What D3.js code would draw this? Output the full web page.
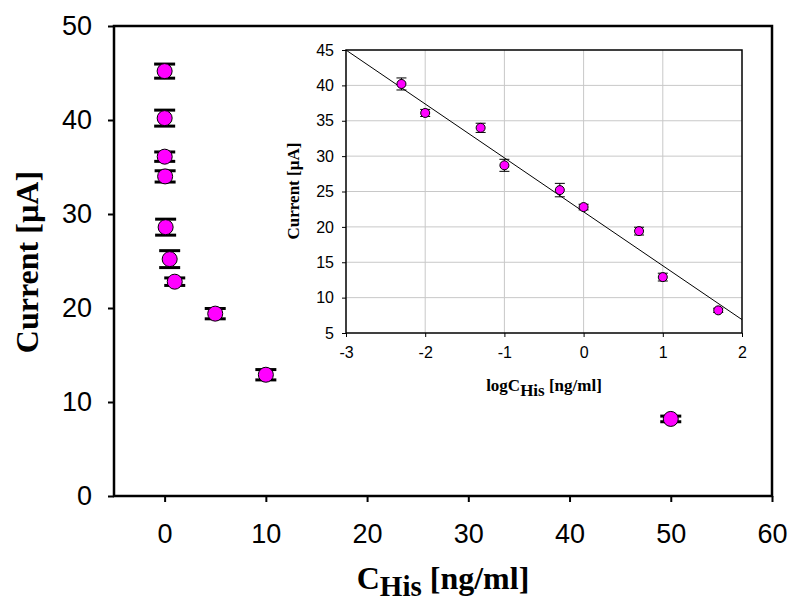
<!DOCTYPE html>
<html>
<head>
<meta charset="utf-8">
<script src="https://cdn.jsdelivr.net/npm/d3@7/dist/d3.min.js"></script>
<style>
  html, body { margin: 0; padding: 0; background: #fff; }
  svg { display: block; }
</style>
</head>
<body>
<svg id="chart" width="790" height="607"></svg>
<script>
// ---- Data ----
const concentrations = [0.001, 0.005, 0.01, 0.05, 0.1, 0.5, 1, 5, 10, 50];   // ng/ml
const currents       = [45.2, 40.2, 36.1, 34.0, 28.6, 25.2, 22.8, 19.4, 12.9, 8.2]; // µA
const currentErrors  = [0.75, 0.85, 0.5, 0.6, 0.85, 0.9, 0.4, 0.55, 0.55, 0.3];

const logConc        = [-2.3, -2.0, -1.3, -1.0, -0.3, 0.0, 0.7, 1.0, 1.7];
const logCurrents    = [40.2, 36.1, 34.0, 28.7, 25.2, 22.8, 19.4, 12.9, 8.2];
const logErrors      = [0.85, 0.5, 0.65, 0.85, 0.95, 0.4, 0.55, 0.55, 0.3];

const fitSlope = -7.62, fitIntercept = 22.13;

const mainXTicks = [0, 10, 20, 30, 40, 50, 60];
const mainYTicks = [0, 10, 20, 30, 40, 50];
const insetXTicks = [-3, -2, -1, 0, 1, 2];
const insetYTicks = [5, 10, 15, 20, 25, 30, 35, 40, 45];

const mainData = concentrations.map((c, i) => ({x: c, y: currents[i], e: currentErrors[i]}));
const insetData = logConc.map((c, i) => ({x: c, y: logCurrents[i], e: logErrors[i]}));

const svg = d3.select("#chart");
const SANS = "'Liberation Sans', Arial, sans-serif";
const SERIF = "'Liberation Serif', 'Times New Roman', serif";
const MAGENTA = "#ff00ff";
const fmt = d => String(d);

// ---- Main chart ----
const M = {left: 114, right: 772, top: 26, bottom: 496};
const x = d3.scaleLinear().domain([-5, 60]).range([M.left, M.right]);
const y = d3.scaleLinear().domain([0, 50]).range([M.bottom, M.top]);

const gMain = svg.append("g");

// frame
gMain.append("rect")
  .attr("x", M.left).attr("y", M.top)
  .attr("width", M.right - M.left).attr("height", M.bottom - M.top)
  .attr("fill", "#fff").attr("stroke", "#000").attr("stroke-width", 2.5);

// y axis
const yAxis = gMain.append("g").attr("transform", `translate(${M.left},0)`)
  .call(d3.axisLeft(y).tickValues(mainYTicks).tickSize(6).tickPadding(16).tickFormat(fmt));
yAxis.select(".domain").remove();
yAxis.selectAll("line").attr("stroke", "#000").attr("stroke-width", 2);
yAxis.selectAll("text").attr("font-family", SANS).attr("font-size", 27).attr("fill", "#000");

// x axis
const xAxis = gMain.append("g").attr("transform", `translate(0,${M.bottom})`)
  .call(d3.axisBottom(x).tickValues(mainXTicks).tickSize(6).tickPadding(22).tickFormat(fmt));
xAxis.select(".domain").remove();
xAxis.selectAll("line").attr("stroke", "#000").attr("stroke-width", 2);
xAxis.selectAll("text").attr("font-family", SANS).attr("font-size", 27).attr("fill", "#000");

// y title
gMain.append("text")
  .attr("transform", `translate(38,262) rotate(-90)`)
  .attr("text-anchor", "middle")
  .attr("font-family", SERIF).attr("font-weight", "bold").attr("font-size", 32)
  .text("Current [µA]");

// x title
const xt = gMain.append("text")
  .attr("x", 443).attr("y", 589)
  .attr("text-anchor", "middle")
  .attr("font-family", SERIF).attr("font-weight", "bold").attr("font-size", 32);
xt.append("tspan").text("C");
xt.append("tspan").attr("dy", 7).attr("font-size", 29).text("His");
xt.append("tspan").attr("dy", -7).text(" [ng/ml]");

// error bars
const eb = gMain.append("g").selectAll("g").data(mainData).join("g");
eb.append("line")
  .attr("x1", d => x(d.x)).attr("x2", d => x(d.x))
  .attr("y1", d => y(d.y + d.e)).attr("y2", d => y(d.y - d.e))
  .attr("stroke", "#000").attr("stroke-width", 2);
eb.append("line")
  .attr("x1", d => x(d.x) - 10.5).attr("x2", d => x(d.x) + 10.5)
  .attr("y1", d => y(d.y + d.e)).attr("y2", d => y(d.y + d.e))
  .attr("stroke", "#000").attr("stroke-width", 3);
eb.append("line")
  .attr("x1", d => x(d.x) - 10.5).attr("x2", d => x(d.x) + 10.5)
  .attr("y1", d => y(d.y - d.e)).attr("y2", d => y(d.y - d.e))
  .attr("stroke", "#000").attr("stroke-width", 3);

gMain.append("g").selectAll("circle").data(mainData).join("circle")
  .attr("cx", d => x(d.x)).attr("cy", d => y(d.y)).attr("r", 7.5)
  .attr("fill", MAGENTA).attr("stroke", "#000").attr("stroke-width", 1);

// ---- Inset ----
const I = {left: 346, right: 742, top: 50, bottom: 333};
const ix = d3.scaleLinear().domain([-3, 2]).range([I.left, I.right]);
const iy = d3.scaleLinear().domain([5, 45]).range([I.bottom, I.top]);
const gIn = svg.append("g");

gIn.append("rect")
  .attr("x", I.left).attr("y", I.top)
  .attr("width", I.right - I.left).attr("height", I.bottom - I.top)
  .attr("fill", "#fff");

// grid
gIn.append("g").selectAll("line").data(insetXTicks.slice(1, -1)).join("line")
  .attr("x1", d => ix(d)).attr("x2", d => ix(d))
  .attr("y1", I.top).attr("y2", I.bottom)
  .attr("stroke", "#c8c8c8").attr("stroke-width", 1);
gIn.append("g").selectAll("line").data(insetYTicks.slice(1, -1)).join("line")
  .attr("x1", I.left).attr("x2", I.right)
  .attr("y1", d => iy(d)).attr("y2", d => iy(d))
  .attr("stroke", "#c8c8c8").attr("stroke-width", 1);

// axes
const iyAxis = gIn.append("g").attr("transform", `translate(${I.left},0)`)
  .call(d3.axisLeft(iy).tickValues(insetYTicks).tickSize(4).tickPadding(8).tickFormat(fmt));
iyAxis.select(".domain").remove();
iyAxis.selectAll("line").attr("stroke", "#000");
iyAxis.selectAll("text").attr("font-family", SANS).attr("font-size", 16).attr("fill", "#000");

const ixAxis = gIn.append("g").attr("transform", `translate(0,${I.bottom})`)
  .call(d3.axisBottom(ix).tickValues(insetXTicks).tickSize(4).tickPadding(10).tickFormat(fmt));
ixAxis.select(".domain").remove();
ixAxis.selectAll("line").attr("stroke", "#000");
ixAxis.selectAll("text").attr("font-family", SANS).attr("font-size", 16).attr("fill", "#000");

// frame
gIn.append("rect")
  .attr("x", I.left).attr("y", I.top)
  .attr("width", I.right - I.left).attr("height", I.bottom - I.top)
  .attr("fill", "none").attr("stroke", "#000").attr("stroke-width", 1.5);

// fit line
const fitX = ix.domain();
gIn.append("line")
  .attr("x1", ix(fitX[0])).attr("y1", iy(fitSlope * fitX[0] + fitIntercept))
  .attr("x2", ix(fitX[1])).attr("y2", iy(fitSlope * fitX[1] + fitIntercept))
  .attr("stroke", "#000").attr("stroke-width", 1);

// inset error bars
const ieb = gIn.append("g").selectAll("g").data(insetData).join("g")
  .attr("stroke", "#000").attr("stroke-width", 1);
ieb.append("line")
  .attr("x1", d => ix(d.x)).attr("x2", d => ix(d.x))
  .attr("y1", d => iy(d.y + d.e)).attr("y2", d => iy(d.y - d.e));
ieb.append("line")
  .attr("x1", d => ix(d.x) - 5).attr("x2", d => ix(d.x) + 5)
  .attr("y1", d => iy(d.y + d.e)).attr("y2", d => iy(d.y + d.e));
ieb.append("line")
  .attr("x1", d => ix(d.x) - 5).attr("x2", d => ix(d.x) + 5)
  .attr("y1", d => iy(d.y - d.e)).attr("y2", d => iy(d.y - d.e));

gIn.append("g").selectAll("circle").data(insetData).join("circle")
  .attr("cx", d => ix(d.x)).attr("cy", d => iy(d.y)).attr("r", 4.5)
  .attr("fill", MAGENTA).attr("stroke", "#000").attr("stroke-width", 1);

// inset titles
gIn.append("text")
  .attr("transform", `translate(299,191) rotate(-90)`)
  .attr("text-anchor", "middle")
  .attr("font-family", SERIF).attr("font-weight", "bold").attr("font-size", 17)
  .text("Current [µA]");

const ixt = gIn.append("text")
  .attr("x", 544).attr("y", 391)
  .attr("text-anchor", "middle")
  .attr("font-family", SERIF).attr("font-weight", "bold").attr("font-size", 17);
ixt.append("tspan").text("logC");
ixt.append("tspan").attr("dy", 5).text("His");
ixt.append("tspan").attr("dy", -5).text(" [ng/ml]");
</script>
</body>
</html>
